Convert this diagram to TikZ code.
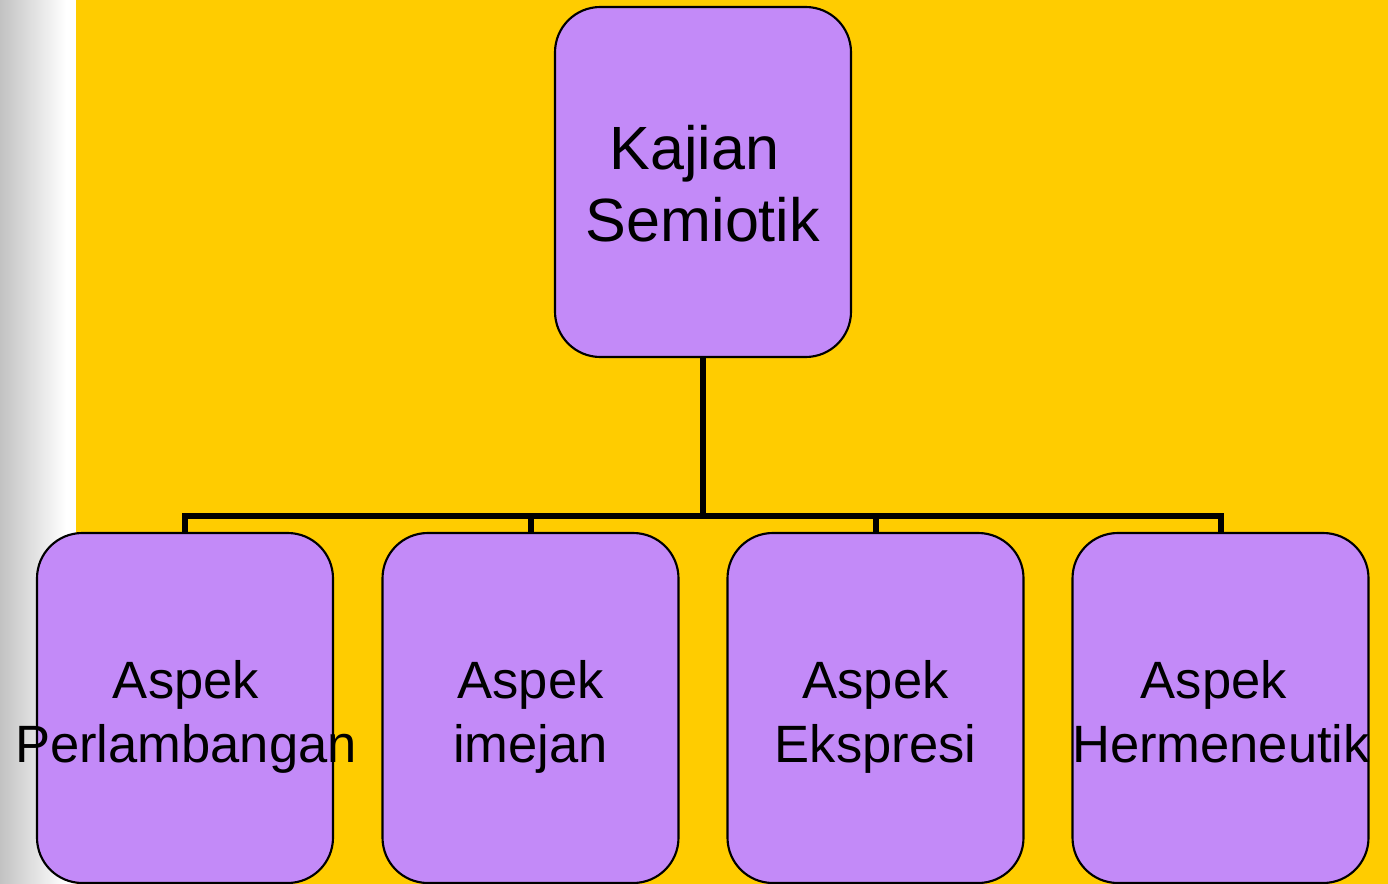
\documentclass[tikz,border=0pt]{standalone}
\usepackage{fontspec}
\setmainfont{Liberation Sans}
\definecolor{bgyellow}{HTML}{FFCC00}
\definecolor{boxpurple}{HTML}{C38AF8}
\definecolor{stripgray}{HTML}{C2C2C2}
\begin{document}
\begin{tikzpicture}[x=0.75pt,y=-0.75pt,
  boxnode/.style={draw=black,line width=1.6pt,fill=boxpurple,rounded corners=34pt,
    minimum width=222pt,minimum height=262.5pt,inner sep=0pt},
  toptext/.style={inner sep=0pt,anchor=base,font=\fontsize{45.8pt}{54pt}\selectfont},
  bottext/.style={inner sep=0pt,anchor=base,font=\fontsize{39.4pt}{48pt}\selectfont},
  conn/.style={line width=4.5pt,line join=miter}]
\useasboundingbox (0,0) rectangle (1388,884);
% background
\shade[left color=stripgray,right color=white] (0,0) rectangle (66,884);
\fill[white] (66,0) rectangle (76.5,884);
\fill[bgyellow] (76,0) rectangle (1388,884);
% boxes
\node[boxnode] (top) at (703,182) {};
\node[boxnode] (b1) at (185,708) {};
\node[boxnode] (b2) at (530.5,708) {};
\node[boxnode] (b3) at (875.5,708) {};
\node[boxnode] (b4) at (1220.5,708) {};
\coordinate (bus) at (703,516);
% connectors
\draw[conn] (top.south) -- (top.south |- bus);
\draw[conn] (b1.north) -- (b1.north |- bus) -- (b4.north |- bus) -- (b4.north);
\draw[conn] (b2.north) -- (b2.north |- bus);
\draw[conn] (b3.north) -- (b3.north |- bus);
% texts
\node[toptext] (t0) at (703,170) {\parbox[t]{400pt}{\centering Kajian\kern0.278em\\Semiotik}};
\node[bottext] (t1) at (186,698) {\parbox[t]{400pt}{\centering Aspek\\Perlambangan}};
\node[bottext] (t2) at (530.5,698) {\parbox[t]{400pt}{\centering Aspek\\imejan}};
\node[bottext] (t3) at (875.5,698) {\parbox[t]{400pt}{\centering Aspek\\Ekspresi}};
\node[bottext] (t4) at (1221,698) {\parbox[t]{400pt}{\centering Aspek\kern0.278em\\Hermeneutik}};
\end{tikzpicture}
\end{document}
